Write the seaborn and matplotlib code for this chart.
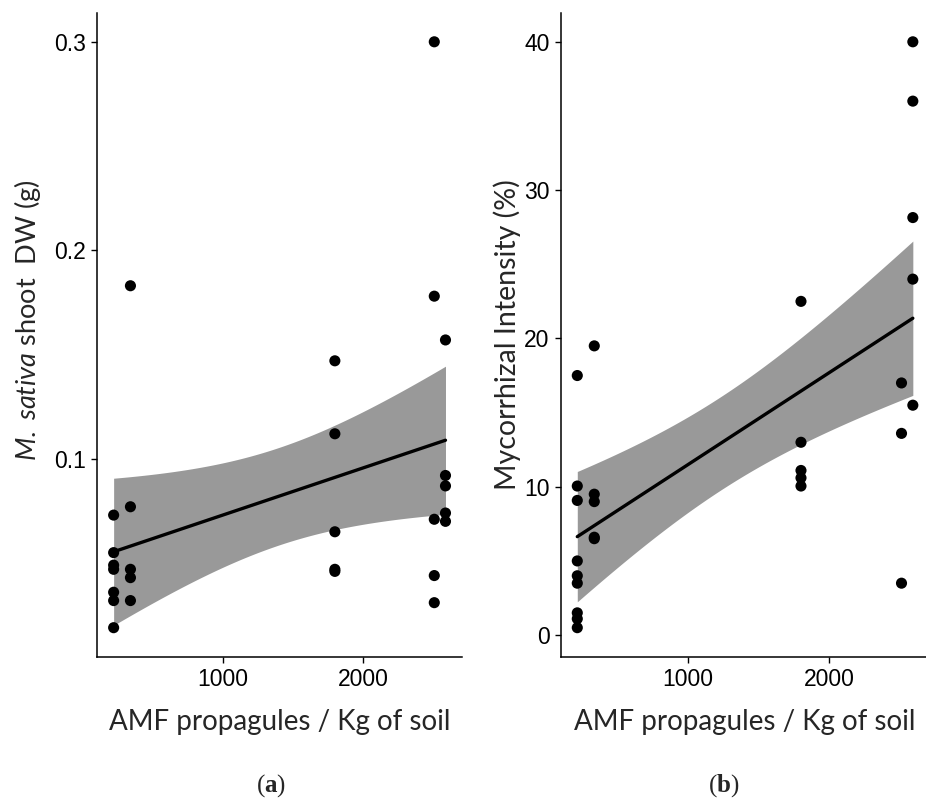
import numpy as np
import pandas as pd
import matplotlib
matplotlib.use('Agg')
import matplotlib.pyplot as plt
import seaborn as sns

# propagule doses (x) and responses
dose_a = [220] * 7 + [340] * 5 + [1800] * 5 + [2510] * 5 + [2590] * 5
shoot_dw = [0.073, 0.055, 0.049, 0.047, 0.036, 0.032, 0.019,
            0.183, 0.077, 0.047, 0.043, 0.032,
            0.147, 0.112, 0.065, 0.047, 0.046,
            0.300, 0.178, 0.071, 0.044, 0.031,
            0.157, 0.092, 0.087, 0.074, 0.070]

dose_b = [220] * 9 + [340] * 5 + [1800] * 5 + [2510] * 3 + [2590] * 5
intensity = [17.5, 10.05, 9.08, 5.0, 4.0, 3.5, 1.5, 1.1, 0.5,
             19.5, 9.5, 9.0, 6.6, 6.5,
             22.5, 13.0, 11.1, 10.6, 10.05,
             17.0, 13.6, 3.5,
             40.0, 36.0, 28.15, 24.0, 15.5]

x_ticks = [1000, 2000]
ticks_a = [0.1, 0.2, 0.3]
labels_a = ['0.1', '0.2', '0.3']
ticks_b = [0, 10, 20, 30, 40]

XLAB = 'AMF propagules / Kg of soil'
T975 = 2.06  # t quantile, df = 25

sns.set_style('white')
plt.rcParams['font.family'] = ['Lato', 'DejaVu Sans']
plt.rcParams['mathtext.fontset'] = 'custom'
plt.rcParams['mathtext.it'] = 'Lato:italic'
plt.rcParams['mathtext.rm'] = 'Lato'
plt.rcParams['mathtext.bf'] = 'Liberation Serif:bold'


def conf_band(x, y, grid):
    # lm confidence band, as geom_smooth(method='lm') draws it
    x = np.asarray(x, float)
    y = np.asarray(y, float)
    b, a = np.polyfit(x, y, 1)
    res = y - (a + b * x)
    s = np.sqrt(np.sum(res ** 2) / (len(x) - 2))
    se = s * np.sqrt(1 / len(x) + (grid - x.mean()) ** 2 / np.sum((x - x.mean()) ** 2))
    fit = a + b * grid
    return fit - T975 * se, fit + T975 * se


def panel(ax, x, y, ticks, ylab, ysize, ypad, ypos):
    df = pd.DataFrame({'x': x, 'y': y})
    grid = np.linspace(min(x), max(x), 200)
    lo_b, hi_b = conf_band(x, y, grid)
    ax.fill_between(grid, lo_b, hi_b, color='#999999', lw=0, zorder=2)
    sns.regplot(data=df, x='x', y='y', ax=ax, scatter=False, color='black',
                ci=None, truncate=True, line_kws={'lw': 2.4, 'zorder': 3})
    sns.scatterplot(data=df, x='x', y='y', ax=ax, color='black', s=64,
                    edgecolor='none', zorder=4)
    lo, hi = min(y), max(y)
    pad = (hi - lo) * 0.05
    ax.set_ylim(lo - pad, hi + pad)
    xl, xh = min(x), max(x)
    xp = (xh - xl) * 0.05
    ax.set_xlim(xl - xp, xh + xp)
    ax.set_xticks(x_ticks)
    ax.set_yticks(ticks)
    ax.set_xlabel(XLAB, fontsize=20, labelpad=13)
    ax.set_ylabel(ylab, fontsize=ysize, labelpad=ypad)
    ax.yaxis.label.set_y(ypos)
    ax.tick_params(axis='both', labelsize=16.5, length=4.5, width=1,
                   color='black', labelcolor='black', direction='out',
                   bottom=True, left=True, pad=3.5,
                   labelfontfamily='Liberation Sans')
    sns.despine(ax=ax)
    for s in ['left', 'bottom']:
        ax.spines[s].set_color('black')
        ax.spines[s].set_linewidth(1.1)


fig = plt.figure(figsize=(9.26, 8.07), dpi=100)
ax1 = fig.add_axes([0.1048, 0.1859, 0.3942, 0.7986])
ax2 = fig.add_axes([0.6053, 0.1859, 0.3986, 0.7986])

panel(ax1, dose_a, shoot_dw, ticks_a, r'$\mathit{M.\ sativa}$ shoot  DW (g)',
      19.5, 8, 0.522)
ax1.set_yticklabels(labels_a)
panel(ax2, dose_b, intensity, ticks_b, 'Mycorrhizal Intensity (%)',
      20.5, 2, 0.5)

fig.text(0.293, 0.027, r'($\mathbf{a}$)', ha='center', va='center',
         fontsize=18, family='Liberation Serif')
fig.text(0.782, 0.027, r'($\mathbf{b}$)', ha='center', va='center',
         fontsize=18, family='Liberation Serif')

fig.savefig('out.png', dpi=100)
